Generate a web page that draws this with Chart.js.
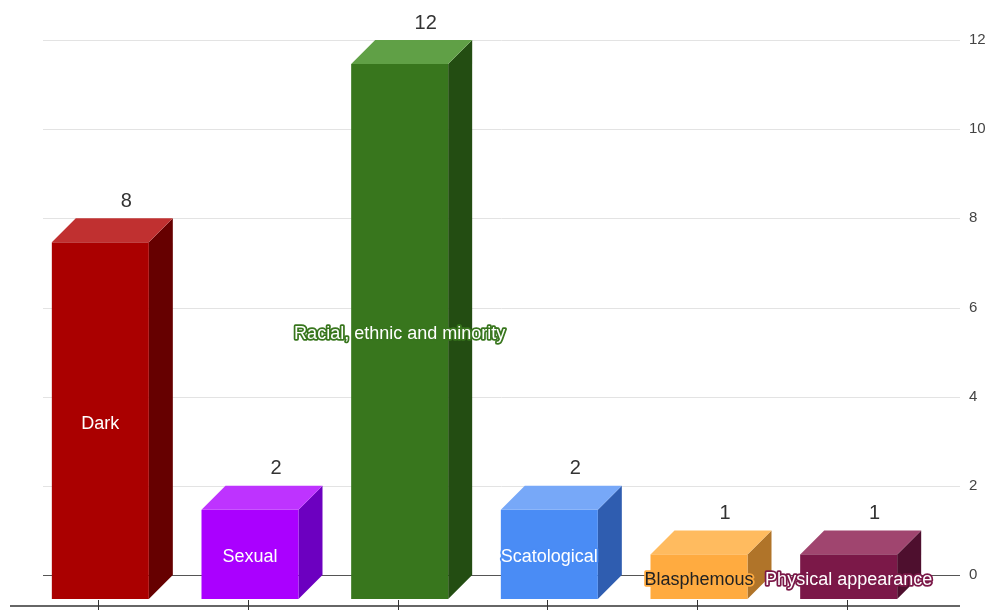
<!DOCTYPE html>
<html>
<head>
<meta charset="utf-8">
<script src="https://cdn.jsdelivr.net/npm/chart.js@4"></script>
<style>
  html, body { margin: 0; padding: 0; background: #fff; }
  #wrap { width: 989px; height: 610px; position: relative; }
</style>
</head>
<body>
<div id="wrap"><canvas id="chart"></canvas></div>
<script>
// Data
const categories = ['Dark', 'Sexual', 'Racial, ethnic and minority', 'Scatological', 'Blasphemous', 'Physical appearance'];
const counts = [8, 2, 12, 2, 1, 1];
const yTicks = [0, 2, 4, 6, 8, 10, 12];

// Colours per bar: front, top, side
const frontColors = ['#aa0000', '#aa00ff', '#38761d', '#4a8cf5', '#ffab40', '#7b1848'];
const topColors = ['#c03030', '#be33ff', '#60a046', '#77a8f8', '#ffbb5f', '#a0456f'];
const sideColors = ['#660000', '#6c00c0', '#234d12', '#2f5db0', '#b07429', '#4e0f2e'];
const labelColors = ['#ffffff', '#ffffff', '#ffffff', '#ffffff', '#222222', '#ffffff'];

const DX = 24; // depth offset to the right
const DY = 24; // depth offset upward

const FONT = '"Liberation Sans", Arial, sans-serif';

// gridlines of the back wall, a bit wider than the chart area
const backGrid = {
    id: 'backGrid',
    beforeDatasetsDraw(chart) {
        const ctx = chart.ctx;
        const y = chart.scales.y;
        ctx.save();
        ctx.lineWidth = 1;
        yTicks.forEach((v) => {
            const py = Math.round(y.getPixelForValue(v)) + 0.5;
            ctx.strokeStyle = v === 0 ? '#555' : '#e3e3e3';
            ctx.beginPath();
            ctx.moveTo(43, py);
            ctx.lineTo(960, py);
            ctx.stroke();
        });
        ctx.restore();
    }
};

// draws the boxes, value labels and category labels
const bars3d = {
    id: 'bars3d',
    afterDatasetsDraw(chart) {
        const ctx = chart.ctx;
        const meta = chart.getDatasetMeta(0);
        ctx.save();
        meta.data.forEach((bar, i) => {
            const w = bar.width;
            const bx0 = bar.x - w / 2;
            const top = bar.y;
            const base = bar.base;
            const fx0 = bx0 - DX;
            const fx1 = fx0 + w;
            const ftop = top + DY;
            const fbase = base + DY;

            // side
            ctx.fillStyle = sideColors[i];
            ctx.beginPath();
            ctx.moveTo(fx1, ftop);
            ctx.lineTo(fx1 + DX, top);
            ctx.lineTo(fx1 + DX, base);
            ctx.lineTo(fx1, fbase);
            ctx.closePath();
            ctx.fill();

            // top
            ctx.fillStyle = topColors[i];
            ctx.beginPath();
            ctx.moveTo(fx0, ftop);
            ctx.lineTo(fx1, ftop);
            ctx.lineTo(fx1 + DX, top);
            ctx.lineTo(fx0 + DX, top);
            ctx.closePath();
            ctx.fill();

            // front
            ctx.fillStyle = frontColors[i];
            ctx.fillRect(fx0, ftop, w, fbase - ftop);

            // value label
            ctx.font = '20px ' + FONT;
            ctx.fillStyle = '#333';
            ctx.textAlign = 'center';
            ctx.textBaseline = 'middle';
            ctx.fillText(String(counts[i]), bar.x + 2, top - 17);

            // category label inside the front face
            ctx.font = '18px ' + FONT;
            const label = categories[i];
            const cx = fx0 + w / 2;
            const cy = (ftop + fbase) / 2 + 3;
            if (ctx.measureText(label).width > w - 6) {
                ctx.lineJoin = 'round';
                ctx.lineWidth = 3.5;
                ctx.strokeStyle = frontColors[i];
                ctx.strokeText(label, cx, cy);
            }
            ctx.fillStyle = labelColors[i];
            ctx.fillText(label, cx, cy);
        });

        // front floor axis with ticks
        const floorY = Math.round(chart.scales.y.getPixelForValue(0)) + 31;
        ctx.strokeStyle = '#333';
        ctx.lineWidth = 1.5;
        ctx.beginPath();
        ctx.moveTo(10, floorY);
        ctx.lineTo(960, floorY);
        ctx.stroke();
        ctx.lineWidth = 1;
        meta.data.forEach((bar) => {
            const tx = Math.round(bar.x - DX) - 1.5;
            ctx.beginPath();
            ctx.moveTo(tx, floorY - 6);
            ctx.lineTo(tx, floorY + 6);
            ctx.stroke();
        });
        ctx.restore();
    }
};

const data = {
    labels: categories,
    datasets: [{
        data: counts,
        backgroundColor: 'rgba(0,0,0,0)',
        borderWidth: 0,
        categoryPercentage: 1,
        barPercentage: 97 / 149.67
    }]
};

const options = {
    responsive: true,
    maintainAspectRatio: false,
    animation: false,
    layout: {
        padding: { left: 49.5, right: 0, top: 40, bottom: 35 }
    },
    scales: {
        x: { display: false },
        y: {
            position: 'right',
            min: 0,
            max: 12,
            afterBuildTicks: (axis) => {
                axis.ticks = yTicks.map(v => ({ value: v }));
            },
            afterFit: (axis) => {
                axis.width = 41.5;
            },
            border: { display: false },
            grid: { display: false, drawTicks: false },
            ticks: {
                padding: 21.5,
                color: '#444',
                font: { family: FONT, size: 15 }
            }
        }
    },
    plugins: {
        legend: { display: false },
        tooltip: { enabled: false }
    }
};

new Chart(document.getElementById('chart'), {
    type: 'bar',
    data: data,
    options: options,
    plugins: [backGrid, bars3d]
});
</script>
</body>
</html>
